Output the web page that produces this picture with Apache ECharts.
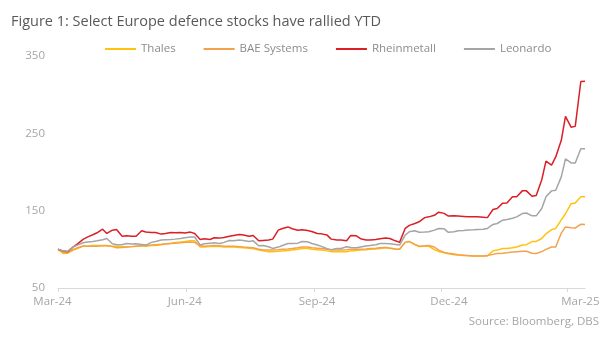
<!DOCTYPE html>
<html><head><meta charset="utf-8">
<script src="https://cdn.jsdelivr.net/npm/echarts@6/dist/echarts.min.js"></script>
<style>html,body{margin:0;padding:0;background:#fff}#c{width:612px;height:355px}</style>
</head><body><div id="c"></div>
<script>
// ---- data: index levels, Friday and Tuesday readings ----
const fridays = [
 '2024-03-01','2024-03-08','2024-03-15','2024-03-22','2024-03-29',
 '2024-04-05','2024-04-12','2024-04-19','2024-04-26',
 '2024-05-03','2024-05-10','2024-05-17','2024-05-24','2024-05-31',
 '2024-06-07','2024-06-14','2024-06-21','2024-06-28',
 '2024-07-05','2024-07-12','2024-07-19','2024-07-26',
 '2024-08-02','2024-08-09','2024-08-16','2024-08-23','2024-08-30',
 '2024-09-06','2024-09-13','2024-09-20','2024-09-27',
 '2024-10-04','2024-10-11','2024-10-18','2024-10-25',
 '2024-11-01','2024-11-08','2024-11-15','2024-11-22','2024-11-29',
 '2024-12-06','2024-12-13','2024-12-20','2024-12-27',
 '2025-01-03','2025-01-10','2025-01-17','2025-01-24','2025-01-31',
 '2025-02-07','2025-02-14','2025-02-21','2025-02-28',
 '2025-03-07','2025-03-14'
];
const tuesdays = [
 '2024-03-05','2024-03-12','2024-03-19','2024-03-26',
 '2024-04-02','2024-04-09','2024-04-16','2024-04-23','2024-04-30',
 '2024-05-07','2024-05-14','2024-05-21','2024-05-28',
 '2024-06-04','2024-06-11','2024-06-18','2024-06-25',
 '2024-07-02','2024-07-09','2024-07-16','2024-07-23','2024-07-30',
 '2024-08-06','2024-08-13','2024-08-20','2024-08-27',
 '2024-09-03','2024-09-10','2024-09-17','2024-09-24',
 '2024-10-01','2024-10-08','2024-10-15','2024-10-22','2024-10-29',
 '2024-11-05','2024-11-12','2024-11-19','2024-11-26',
 '2024-12-03','2024-12-10','2024-12-17','2024-12-24','2024-12-31',
 '2025-01-07','2025-01-14','2025-01-21','2025-01-28',
 '2025-02-04','2025-02-11','2025-02-18','2025-02-25',
 '2025-03-04','2025-03-11'
];

const thalesFri = [100,95,101,104,105, 105,104,103,104, 104,105,107,109,110,
 111,103,104,103, 103,102,101,98, 97,98,99,101,100, 99,97,97,98,
 99,100,101,101.6, 100,110,103.5,104,97.3, 94.3,92.6,91.7,91.3,
 91.3,99,101,103,106, 110.2,120,127,146, 160,168];
const thalesTue = [94.5,99,104.5,105, 105,104,103.5,103.5,104.5, 105,106,108,109.5,
 111,103,103.5,103.5, 103,102.5,101.5,99,97, 97.5,98.5,100,101, 99.5,98,97,97,
 98.5,99.5,100.5,102.5,100.5, 109,106,104,99.5, 95.5,93,92,91.5,91.3,
 98,101,102,105.5, 110,114,125.5,138, 159,168];

const baeFri = [100,96,102,104,104, 104.5,102,103,104, 105,106,107,108,109,
 109,104,105,104, 104,103,102,99, 99,100,101,103,102, 101,99,99,100,
 100,101,102,101.5, 100,110,104,105,99, 95,93,92,91.5,
 92,94.7,95.5,97,97.5, 94.7,100,103,129, 127.5,132];
const baeTue = [95.8,100,104,104, 104.5,103.5,102.5,103.5,104.5, 105.5,106.5,107.5,108.5,
 109.5,104.5,104.5,104.5, 104,103.5,102.5,100,99, 99.5,100.5,102,103, 101.5,100,99,99.5,
 100,100.5,101.5,102.5,100.5, 109,106.5,104.5,103, 96,94,92.5,91.5,91.5,
 93.5,95,96.5,97.5, 95,97,103,121, 128,132.5];

const rheinmetallFri = [100,97,107,115.8,121.4, 120.5,125.7,117.5,117, 122.3,121.8,120.5,121.4,121,
 120.5,113.7,115,115.4, 118,118.4,118,111.5, 113.2,127,126.6,125.3,123, 120,113.2,112,118,
 113.7,112,113.7,114, 109,131,135.6,142,148, 143,143,142,142,
 141,152.8,160,168,175.6, 169.6,214,219.5,272, 259,317.5];
const rheinmetallTue = [97.7,103.3,112.8,118.8, 126,124.8,117,117,124, 121.8,119.7,121.8,121.8,
 122.3,112.8,112.8,114.5, 117,119.2,117,111,112, 124.8,129,124.8,124.4, 120.5,118.4,112,111,
 117.5,112,112.8,114.5,111, 127,133.4,141,144, 146.5,143.3,142.5,142,141.6,
 151.5,159.7,168,175.6, 168.7,190,208.8,241, 258,317];

const leonardoFri = [100,97.5,105.5,109.4,111, 114,106,107.6,107.2, 105.5,110.2,112.4,113.2,115,
 116,107.2,108.5,109, 111,111.5,111,105, 101.2,105,107.6,110.2,107.6, 103.8,99.6,101.2,102.5,
 103,105,107.6,107.2, 105.5,122.7,122,122.7,127, 122,124,125,125.7,
 127,133.4,138.6,142,147, 143.3,168,176.5,217, 211.7,230];
const leonardoTue = [97.7,103.3,108.5,110.2, 112.4,107.2,106,106.8,106.3, 109,112,112.8,114,
 115.8,105.5,108,107.6, 111.5,112,110.2,104.6,103.3, 102.9,107.6,108,109.8, 105.5,100.8,101.2,103.3,
 102,104.2,106,107.6,106.3, 118.4,124,122.3,124.8, 126.5,122.7,124.4,125.3,126,
 132.2,137.7,140.3,146.3, 143.3,152.8,175.6,193.7, 211.7,230];

const seriesNames = ['Thales','BAE Systems','Rheinmetall','Leonardo'];
const xTickDates = ['2024-03-01','2024-06-01','2024-09-01','2024-12-01','2025-03-01'];
const xTickLabels = ['Mar-24','Jun-24','Sep-24','Dec-24','Mar-25'];
const xEndDate = '2025-03-14';
const yTicks = [50,150,250,350];
const titleText = 'Figure 1: Select Europe defence stocks have rallied YTD';
const sourceText = 'Source: Bloomberg, DBS';

// ---- styling ----
const colors = ['#FFC20E','#F4A14B','#DA1F26','#A5A5A5'];
const labelShift = [-5.5,-1.5,2.5,7.5,13.5];
const FONT = "'Open Sans', 'Noto Sans', sans-serif";

const day0 = Date.parse(fridays[0]);
const toDay = d => Math.round((Date.parse(d) - day0) / 86400000);
const tickDays = xTickDates.map(toDay);
const valueSets = [[thalesFri, thalesTue],[baeFri, baeTue],[rheinmetallFri, rheinmetallTue],[leonardoFri, leonardoTue]];

function buildData(fri, tue) {
  const pts = fridays.map((d, i) => [toDay(d), fri[i]])
    .concat(tuesdays.map((d, i) => [toDay(d), tue[i]]));
  pts.sort((a, b) => a[0] - b[0]);
  return pts;
}

const rich = {};
labelShift.forEach((s, i) => {
  rich['s' + i] = {
    color: '#a6a6a6', fontSize: 11.5, fontFamily: FONT,
    padding: [0, s < 0 ? -2 * s : 0, 0, s > 0 ? 2 * s : 0]
  };
});

const chart = echarts.init(document.getElementById('c'), null, {renderer: 'canvas'});
chart.setOption({
  animation: false,
  backgroundColor: '#fff',
  title: {
    text: titleText, left: 6, top: 9,
    textStyle: {fontFamily: FONT, fontSize: 14.5, fontWeight: 'normal', color: '#595959'}
  },
  legend: {
    data: seriesNames, left: 100, top: 38, icon: 'rect',
    itemWidth: 31, itemHeight: 2, itemGap: 28,
    textStyle: {fontFamily: FONT, fontSize: 11.5, color: '#8c8c8c'}
  },
  grid: {left: 58, right: 27, top: 56, bottom: 67},
  xAxis: {
    type: 'value', min: 0, max: toDay(xEndDate),
    axisLine: {show: true, lineStyle: {color: '#d9d9d9', width: 1}},
    axisTick: {show: true, customValues: tickDays, length: 4, lineStyle: {color: '#d9d9d9'}},
    axisLabel: {
      customValues: tickDays, margin: 8,
      formatter: v => { const i = tickDays.indexOf(v); return i < 0 ? '' : '{s' + i + '|' + xTickLabels[i] + '}'; },
      rich: rich
    },
    splitLine: {show: false}
  },
  yAxis: {
    type: 'value', min: yTicks[0], max: yTicks[yTicks.length - 1], interval: 100,
    axisLine: {show: false}, axisTick: {show: false}, splitLine: {show: false},
    axisLabel: {margin: 13, color: '#a6a6a6', fontSize: 11.5, fontFamily: FONT}
  },
  graphic: [{
    type: 'text', right: 13, top: 316,
    style: {text: sourceText, fill: '#a6a6a6', font: '11.5px ' + FONT}
  }],
  series: seriesNames.map((n, k) => ({
    name: n, type: 'line', showSymbol: false, symbol: 'none',
    color: colors[k],
    lineStyle: {width: 1.5, color: colors[k]},
    data: buildData(valueSets[k][0], valueSets[k][1])
  }))
});
</script>
</body></html>
